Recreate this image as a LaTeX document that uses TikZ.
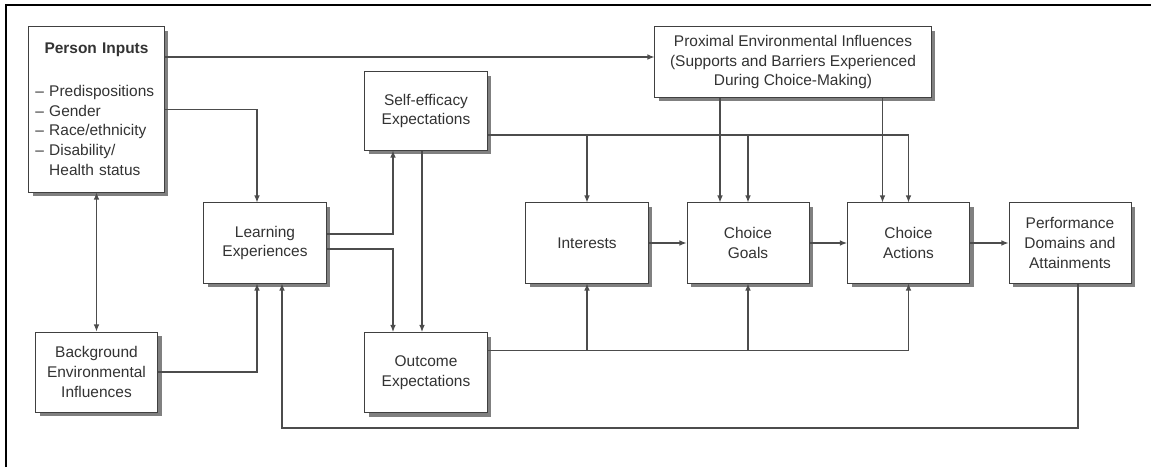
\documentclass[tikz,border=0pt]{standalone}
\usepackage{fontspec}
\setmainfont{Liberation Sans}
\usetikzlibrary{calc,shadows,arrows.meta}

\begin{document}
\begin{tikzpicture}[x=0.025cm,y=-0.025cm,
    box/.style={draw=black!75,line width=0.7pt,fill=white,text=black!80,align=center,
      minimum width=3.05cm,minimum height=2cm,inner sep=2pt,
      font=\fontsize{11}{14.2}\selectfont,
      drop shadow={shadow xshift=0.11cm,shadow yshift=-0.11cm,fill=black!50,opacity=1}},
    line/.style={draw=black!70,line width=0.8pt},
    arr/.style={line,-{Latex[length=5pt,width=4pt]}},
    arrboth/.style={line,{Latex[length=5pt,width=4pt]}-{Latex[length=5pt,width=4pt]}}]
  \useasboundingbox (0,0) rectangle (1151,467);
  \draw[line width=2pt] (6,467) -- (6,5) -- (1151,5);

  % boxes
  \node[box,minimum width=3.375cm,minimum height=4.125cm,text width=3.05cm,align=left] (inp) at (96.5,109.5)
    {\makebox[\linewidth]{\textbf{Person Inputs}}\\[16pt]
     --~Predispositions\\ --~Gender\\ --~Race/ethnicity\\ --~Disability/\\ \hphantom{--~}Health status};
  \node[box] (bg) at (96.5,372) {Background\\Environmental\\Influences};
  \node[box] (le) at (265,243) {Learning\\Experiences};
  \node[box,minimum height=1.95cm] (se) at (426,111) {Self-efficacy\\Expectations};
  \node[box] (oe) at (426,372.5) {Outcome\\Expectations};
  \node[box] (int) at (587,243) {Interests};
  \node[box] (cg) at (748,243) {Choice\\Goals};
  \node[box] (ca) at (908.5,243) {Choice\\Actions};
  \node[box] (perf) at (1070,243) {Performance\\Domains and\\Attainments};
  \node[box,minimum width=6.9cm,minimum height=1.75cm] (prox) at (793,62)
    {Proximal Environmental Influences\\(Supports and Barriers Experienced\\During Choice-Making)};

  % helper points
  \coordinate (ptop) at ($(prox.west)+(0,-5)$);
  \coordinate (lein) at ($(le.north)+(-8,0)$);
  \coordinate (leb1) at ($(le.south)+(-8,0)$);
  \coordinate (leb2) at ($(le.south)+(17,0)$);
  \coordinate (se1) at ($(se.south)+(-33,0)$);
  \coordinate (oe1) at ($(oe.north)+(-33,0)$);
  \coordinate (se2) at ($(se.south)+(-4,0)$);
  \coordinate (oe2) at ($(oe.north)+(-4,0)$);
  \coordinate (seo) at ($(se.east)+(0,24)$);
  \coordinate (oeo) at ($(oe.east)+(0,-22)$);
  \coordinate (cg1) at ($(cg.north)+(-28,0)$);
  \coordinate (ca1) at ($(ca.north)+(-26,0)$);
  \coordinate (pfo) at ($(perf.south)+(8,0)$);
  \coordinate (fb) at ($(oe.south)+(0,15)$);

  % connectors
  \draw[arr] (inp.east |- ptop) -- (ptop);
  \draw[arr] (inp.east) -| (lein);
  \draw[arrboth] (inp.south) -- (bg.north);
  \draw[arr] (bg.east) -| (leb1);
  \draw[arr] (pfo) |- (fb) -| (leb2);
  \draw[arr] ($(le.east)+(0,-9)$) -| (se1);
  \draw[arr] ($(le.east)+(0,6)$) -| (oe1);
  \draw[arr] (se2) -- (oe2);
  \draw[arr] (seo) -| (ca.north);
  \draw[arr] (seo -| int.north) -- (int.north);
  \draw[arr] (seo -| cg.north) -- (cg.north);
  \draw[arr] (prox.south -| cg1) -- (cg1);
  \draw[arr] (prox.south -| ca1) -- (ca1);
  \draw[arr] (oeo) -| (ca.south);
  \draw[arr] (oeo -| int.south) -- (int.south);
  \draw[arr] (oeo -| cg.south) -- (cg.south);
  \draw[arr] (int) -- (cg);
  \draw[arr] (cg) -- (ca);
  \draw[arr] (ca) -- (perf);
\end{tikzpicture}
\end{document}
